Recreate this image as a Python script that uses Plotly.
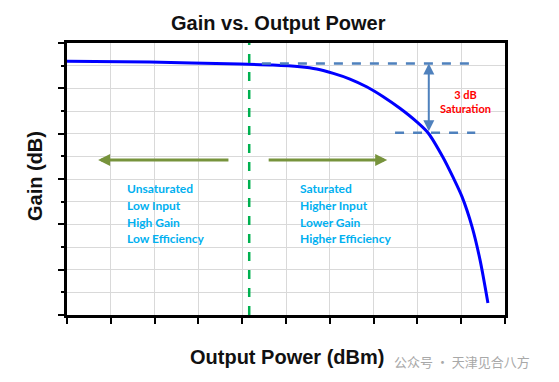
import plotly.graph_objects as go

# ---- data (arbitrary axis units) ----
out_power = [0.0, 1.89, 3.95, 4.70, 5.32, 5.70, 6.08, 6.46, 6.84, 7.22, 7.60, 7.98, 8.25, 8.58, 8.81, 9.02, 9.25, 9.43, 9.61]
gain_db = [11.2, 11.16, 11.07, 11.03, 10.95, 10.85, 10.66, 10.41, 10.07, 9.63, 9.12, 8.53, 8.02, 6.97, 6.09, 5.21, 3.88, 2.43, 0.53]

divider_x = 4.16                     # green dashed boundary
upper_ref = [4.45, 9.32, 11.1]       # x0, x1, y of upper dashed reference
lower_ref = [7.49, 9.32, 8.04]       # x0, x1, y of lower dashed reference
sat_arrow_x = 8.26
green_arrow_y = 6.84
left_arrow = [3.72, 0.71]            # from, to
right_arrow = [4.57, 7.31]

left_lines = ["Unsaturated", "Low Input", "High Gain", "Low Efficiency"]
right_lines = ["Saturated", "Higher Input", "Lower Gain", "Higher Efficiency"]
line_y = [5.56, 4.83, 4.10, 3.37]
left_text_x = 1.32
right_text_x = 5.27

BLUE_DASH = "#4f81bd"
GREEN_ARROW = "#77933c"
TXT_BLUE = "#00b0f0"

OFF = 8  # default body margin of the html page

fig = go.Figure()
fig.add_trace(go.Scatter(x=out_power, y=gain_db, mode="lines",
                         line=dict(color="#0000ff", width=3, shape="spline", smoothing=0.8),
                         showlegend=False, hoverinfo="skip"))

# divider
fig.add_shape(type="line", x0=divider_x, x1=divider_x, y0=0, y1=12,
              line=dict(color="#00b050", width=2.5, dash="dash"))
# dashed references
for x0, x1, y in (upper_ref, lower_ref):
    fig.add_shape(type="line", x0=x0, x1=x1, y0=y, y1=y,
                  line=dict(color=BLUE_DASH, width=2.5, dash="dash"))

annotations = []
# 3 dB double arrow
annotations.append(dict(x=sat_arrow_x, y=upper_ref[2], ax=sat_arrow_x, ay=lower_ref[2],
                        xref="x", yref="y", axref="x", ayref="y", text="",
                        showarrow=True, arrowhead=2, arrowside="end+start", arrowsize=1.1,
                        arrowwidth=2, arrowcolor=BLUE_DASH))
# green arrows
for a in (left_arrow, right_arrow):
    annotations.append(dict(x=a[1], y=green_arrow_y, ax=a[0], ay=green_arrow_y,
                            xref="x", yref="y", axref="x", ayref="y", text="",
                            showarrow=True, arrowhead=2, arrowsize=0.8, arrowwidth=3,
                            arrowcolor=GREEN_ARROW))
annotations.append(dict(x=9.09, y=9.44, xref="x", yref="y", showarrow=False,
                        xanchor="center", yanchor="middle",
                        text="<b>3 dB<br>Saturation</b>", align="center",
                        font=dict(family="Lato", size=11, color="#ff0000")))
for lines, xx in ((left_lines, left_text_x), (right_lines, right_text_x)):
    for t, yy in zip(lines, line_y):
        annotations.append(dict(x=xx, y=yy, xref="x", yref="y", showarrow=False,
                                xanchor="left", yanchor="middle", text="<b>" + t + "</b>",
                                font=dict(family="Lato", size=12, color=TXT_BLUE)))
# titles
TITLE_FONT = "Arial, Liberation Sans"
annotations.append(dict(x=0.484, y=1.074, xref="paper", yref="paper", showarrow=False,
                        xanchor="center", yanchor="middle",
                        text="<b>Gain vs. Output Power</b>",
                        font=dict(family=TITLE_FONT, size=20, color="#111")))
annotations.append(dict(x=0.502, y=-0.154, xref="paper", yref="paper", showarrow=False,
                        xanchor="center", yanchor="middle",
                        text="<b>Output Power (dBm)</b>",
                        font=dict(family=TITLE_FONT, size=20, color="#111")))
annotations.append(dict(x=-0.073, y=0.511, xref="paper", yref="paper", showarrow=False,
                        xanchor="center", yanchor="middle",
                        text="<b>Gain (dB)</b>", textangle=-90,
                        font=dict(family=TITLE_FONT, size=20, color="#111")))
annotations.append(dict(x=(462 - 67) / 438, y=(315 - 361) / 272, xref="paper", yref="paper",
                        showarrow=False, xanchor="center", yanchor="middle",
                        text="公众号 · 天津见合八方",
                        font=dict(family="Noto Sans CJK SC", size=13, color="#a8a8a8")))

fig.update_layout(
    width=559 - OFF, height=382 - OFF,
    margin=dict(l=67 - OFF, r=54, t=43 - OFF, b=67),
    paper_bgcolor="white", plot_bgcolor="white",
    annotations=annotations,
    showlegend=False,
    xaxis=dict(range=[0, 10], dtick=1, showticklabels=False, ticks="outside", ticklen=6,
               tickwidth=2, tickcolor="black", showgrid=True, gridcolor="#d9d9d9", gridwidth=1,
               showline=True, linecolor="black", linewidth=2.5, mirror=True, zeroline=False),
    yaxis=dict(range=[0, 12], dtick=2, showticklabels=False, ticks="outside", ticklen=6,
               tickwidth=2, tickcolor="black", showgrid=True, gridcolor="#d9d9d9", gridwidth=1,
               showline=True, linecolor="black", linewidth=2.5, mirror=True, zeroline=False,
               minor=dict(dtick=1, ticks="outside", ticklen=3, tickwidth=2, tickcolor="black",
                          showgrid=True, gridcolor="#d9d9d9", gridwidth=1)),
)

fig.write_html("out.html")
